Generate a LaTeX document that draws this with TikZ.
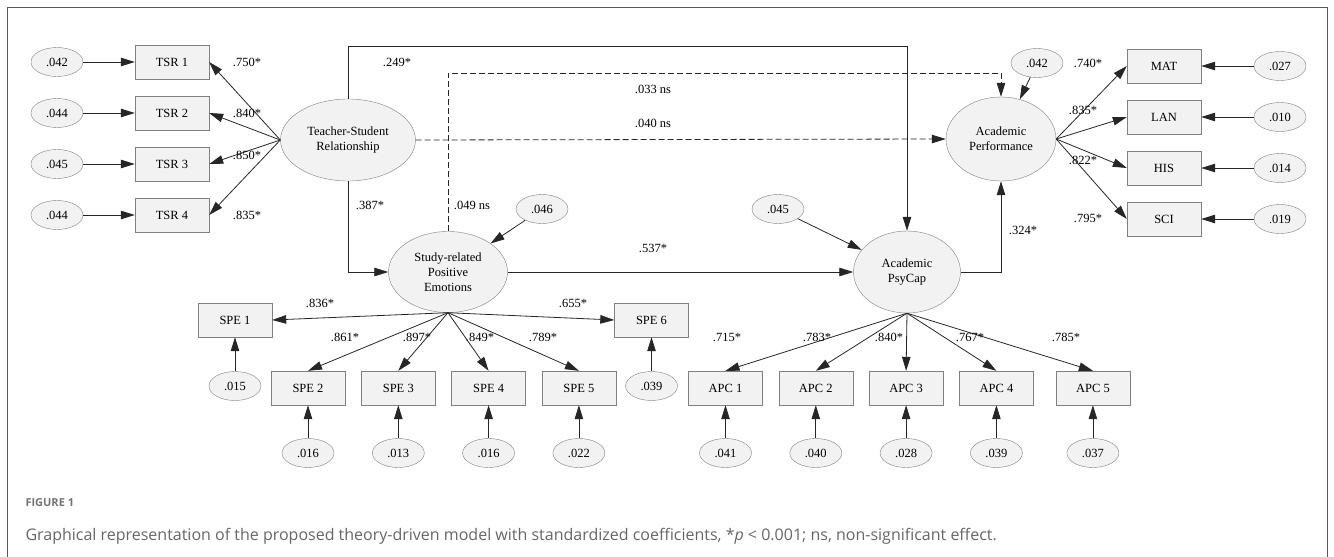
\documentclass[tikz,border=0pt]{standalone}
\usepackage{fontspec}
\setmainfont{Liberation Serif}
\newfontfamily\capfont{Open Sans}
\usetikzlibrary{positioning,shapes.geometric,arrows.meta}

\tikzstyle{latent} = [ellipse, draw = black!50, fill = black!5, inner sep = 0pt, align = center]
\tikzstyle{ind} = [rectangle, draw = black!50, fill = black!5, minimum width = 74pt, minimum height = 34pt]
\tikzstyle{err} = [ellipse, draw = black!50, fill = black!5, minimum width = 52pt, minimum height = 29pt, inner sep = 0pt]
\tikzstyle{lbl} = [inner sep = 0pt]
\tikzstyle{arr} = [color = black!85, line width = 0.8pt, -{Triangle[length = 14pt, width = 8.5pt]}]
\tikzstyle{ns} = [arr, dash pattern = on 6pt off 3pt]

\begin{document}
\begin{tikzpicture}[x = 1pt, y = -1pt, node distance = 51pt, font = \fontsize{12.5}{15}\selectfont]
			\useasboundingbox (0,0) rectangle (1334,557);
			\draw[black!65, line width = 1pt] (7,557) -- (7,7) -- (1327,7) -- (1327,557);

			\node[latent, minimum width = 135pt, minimum height = 82pt] (tsrl) at (348,140) {Teacher-Student\\Relationship};
			\node[latent, minimum width = 119pt, minimum height = 81pt] (spel) at (448,272) {Study-related\\Positive\\Emotions};
			\node[latent, minimum width = 107pt, minimum height = 82pt] (apc) at (907,272) {Academic\\PsyCap};
			\node[latent, minimum width = 110pt, minimum height = 84pt] (ap) at (1001,139) {Academic\\Performance};

			\node[ind] (tsr1) at (172,62) {TSR 1};
			\node[ind, below of = tsr1] (tsr2) {TSR 2};
			\node[ind, below of = tsr2] (tsr3) {TSR 3};
			\node[ind, below of = tsr3] (tsr4) {TSR 4};
			\node[err, left of = tsr1, node distance = 115pt] (etsr1) {.042};
			\node[err, left of = tsr2, node distance = 115pt] (etsr2) {.044};
			\node[err, left of = tsr3, node distance = 115pt] (etsr3) {.045};
			\node[err, left of = tsr4, node distance = 115pt] (etsr4) {.044};

			\node[ind] (mat) at (1164,66) {MAT};
			\node[ind, below of = mat] (lan) {LAN};
			\node[ind, below of = lan] (his) {HIS};
			\node[ind, below of = his] (sci) {SCI};
			\node[err, right of = mat, node distance = 116pt] (emat) {.027};
			\node[err, right of = lan, node distance = 116pt] (elan) {.010};
			\node[err, right of = his, node distance = 116pt] (ehis) {.014};
			\node[err, right of = sci, node distance = 116pt] (esci) {.019};

			\node[ind] (spe1) at (235,320) {SPE 1};
			\node[ind] (spe2) at (308,388) {SPE 2};
			\node[ind, right of = spe2, node distance = 90.3pt] (spe3) {SPE 3};
			\node[ind, right of = spe3, node distance = 90.3pt] (spe4) {SPE 4};
			\node[ind, right of = spe4, node distance = 90.3pt] (spe5) {SPE 5};
			\node[ind] (spe6) at (651.5,320) {SPE 6};
			\node[err, below of = spe1, node distance = 66pt] (espe1) {.015};
			\node[err, below of = spe2, node distance = 65pt] (espe2) {.016};
			\node[err, below of = spe3, node distance = 65pt] (espe3) {.013};
			\node[err, below of = spe4, node distance = 65pt] (espe4) {.016};
			\node[err, below of = spe5, node distance = 65pt] (espe5) {.022};
			\node[err, below of = spe6, node distance = 66pt] (espe6) {.039};

			\node[ind] (apc1) at (725.5,388) {APC 1};
			\node[ind, right of = apc1, node distance = 90.3pt] (apc2) {APC 2};
			\node[ind, right of = apc2, node distance = 90.3pt] (apc3) {APC 3};
			\node[ind, right of = apc3, node distance = 90.3pt] (apc4) {APC 4};
			\node[ind, right of = apc4, node distance = 96.5pt] (apc5) {APC 5};
			\node[err, below of = apc1, node distance = 65pt] (eapc1) {.041};
			\node[err, below of = apc2, node distance = 65pt] (eapc2) {.040};
			\node[err, below of = apc3, node distance = 65pt] (eapc3) {.028};
			\node[err, below of = apc4, node distance = 65pt] (eapc4) {.039};
			\node[err, below of = apc5, node distance = 65pt] (eapc5) {.037};

			\node[err] (espel) at (542,209) {.046};
			\node[err] (eapc) at (778,209) {.045};
			\node[err] (eap) at (1037,63) {.042};
			\coordinate (top) at (0,46);
			\coordinate (dtop) at (0,73);

			\path[arr]
			(etsr1) edge (tsr1)
			(etsr2) edge (tsr2)
			(etsr3) edge (tsr3)
			(etsr4) edge (tsr4)
			(tsrl.west) edge (tsr1.east)
			(tsrl.west) edge (tsr2.east)
			(tsrl.west) edge (tsr3.east)
			(tsrl.west) edge (tsr4.east)
			(emat) edge (mat)
			(elan) edge (lan)
			(ehis) edge (his)
			(esci) edge (sci)
			(ap.east) edge (mat.west)
			(ap.east) edge (lan.west)
			(ap.east) edge (his.west)
			(ap.east) edge (sci.west)
			(spel.south) edge (spe1.east)
			(spel.south) edge (spe2.north)
			(spel.south) edge (spe3.north)
			(spel.south) edge (spe4.north)
			(spel.south) edge (spe5.north)
			(spel.south) edge (spe6.west)
			(espe1) edge (spe1)
			(espe2) edge (spe2)
			(espe3) edge (spe3)
			(espe4) edge (spe4)
			(espe5) edge (spe5)
			(espe6) edge (spe6)
			(apc.south) edge (apc1.north)
			(apc.south) edge (apc2.north)
			(apc.south) edge (apc3.north)
			(apc.south) edge (apc4.north)
			(apc.south) edge (apc5.north)
			(eapc1) edge (apc1)
			(eapc2) edge (apc2)
			(eapc3) edge (apc3)
			(eapc4) edge (apc4)
			(eapc5) edge (apc5)
			(espel) edge (spel)
			(eapc) edge (apc)
			(eap) edge (ap)
			(spel.east) edge (apc.west);
			\draw[arr] (tsrl.north) |- (apc.north |- top) -- (apc.north);
			\draw[arr] (tsrl.south) |- (spel.west);
			\draw[arr] (apc.east) -| (ap.south);
			\draw[ns] (tsrl.east) -- (ap.west);
			\draw[ns] (spel.north) |- (ap.north |- dtop) -- (ap.north);

			\node[lbl] (l750) at (247,62) {.750*};
			\node[lbl] (l840) at (247,113) {.840*};
			\node[lbl] (l850) at (247,155) {.850*};
			\node[lbl] (l835) at (247,215) {.835*};
			\node[lbl] (l249) at (397,62) {.249*};
			\node[lbl] (l387) at (370,205) {.387*};
			\node[lbl] (l033) at (653,89) {.033 ns};
			\node[lbl] (l040) at (653,123) {.040 ns};
			\node[lbl] (l049) at (472,205) {.049 ns};
			\node[lbl] (l537) at (653,248) {.537*};
			\node[lbl] (l324) at (1023,230) {.324*};
			\node[lbl] (lmat) at (1088,63) {.740*};
			\node[lbl] (llan) at (1083,110) {.835*};
			\node[lbl] (lhis) at (1083,160) {.822*};
			\node[lbl] (lsci) at (1088,218) {.795*};
			\node[lbl] (lspe1) at (320,303) {.836*};
			\node[lbl] (lspe6) at (573,303) {.655*};
			\node[lbl] (lspe2) at (345,337) {.861*};
			\node[lbl] (lspe3) at (417,337) {.897*};
			\node[lbl] (lspe4) at (480,337) {.849*};
			\node[lbl] (lspe5) at (543,337) {.789*};
			\node[lbl] (lapc1) at (727,337) {.715*};
			\node[lbl] (lapc2) at (817,337) {.783*};
			\node[lbl] (lapc3) at (889,337) {.840*};
			\node[lbl] (lapc4) at (970,337) {.767*};
			\node[lbl] (lapc5) at (1066,337) {.785*};

			\node[anchor = west, text = black!55, font = \capfont\bfseries\fontsize{11}{13}\selectfont] (fig) at (22,503) {FIGURE 1};
			\node[anchor = west, text = black!60, font = \capfont\fontsize{16}{19}\selectfont] (cap) at (22,536) {Graphical representation of the proposed theory-driven model with standardized coefficients, *\textit{p} < 0.001; ns, non-significant effect.};
		\end{tikzpicture}
\end{document}
